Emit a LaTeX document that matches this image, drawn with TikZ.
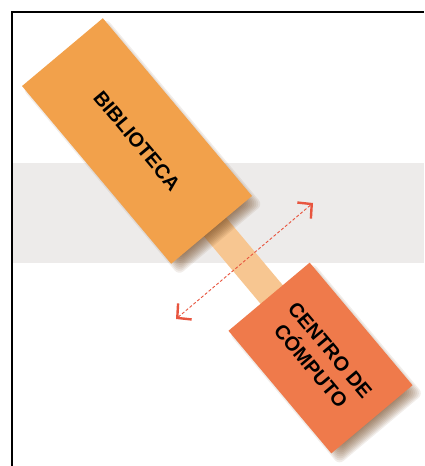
\documentclass[tikz,border=0pt]{standalone}
\usepackage{fontspec}
\setmainfont{Liberation Sans}
\usetikzlibrary{arrows.meta}
\definecolor{bibcol}{RGB}{242,161,75}
\definecolor{cencol}{RGB}{239,122,75}
\definecolor{stripcol}{RGB}{247,198,145}
\definecolor{bandcol}{RGB}{237,235,234}
\definecolor{arrcol}{RGB}{232,85,63}
\definecolor{shadowcol}{RGB}{110,65,25}
\begin{document}
\begin{tikzpicture}[x=1pt,y=1pt,
  boxstyle/.style={draw=none, rotate=-50, inner sep=0pt, align=center,
    font=\fontsize{20}{25}\selectfont\bfseries, text=black},
  shadowlayer/.style={fill=shadowcol, opacity=0.09, rounded corners=6pt},
  linkbar/.style={fill=stripcol},
  band/.style={fill=bandcol},
  framestyle/.style={draw=black, line width=2pt},
  tipstyle/.tip={Straight Barb[length=10pt,width=21pt,line width=2.4pt]},
  flowarrow/.style={draw=arrcol, line width=0.9pt, dash pattern=on 3pt off 2pt, tipstyle-tipstyle}]
\useasboundingbox (0,0) rectangle (424,466);
\fill[white] (0,0) rectangle (424,466);
\fill[band] (12,203) rectangle (424,303);
\coordinate (bc) at (137,325);
\coordinate (cc) at (320.5,108);
% link bar and shadow of the library box
\begin{scope}[shift={(bc)}, rotate=-50]
  \fill[linkbar] (110,-10) rectangle (210,19);
  \foreach \i in {0,...,9}{
    \pgfmathsetmacro{\e}{-7+1.4*\i}
    \fill[shadowlayer] (8-116-\e,-52.75-\e+4) rectangle (8+116+\e,52.75+\e-3);
  }
\end{scope}
\node[boxstyle, fill=bibcol, minimum width=232pt, minimum height=105.5pt] (bib) at (bc) {BIBLIOTECA};
% shadow of the computer centre box
\begin{scope}[shift={(cc)}, rotate=-50]
  \foreach \i in {0,...,9}{
    \pgfmathsetmacro{\e}{-7+1.4*\i}
    \fill[shadowlayer] (8-80-\e,-53-\e+4) rectangle (8+80+\e,53+\e-3);
  }
\end{scope}
\node[boxstyle, fill=cencol, minimum width=160pt, minimum height=106pt] (cen) at (cc) {CENTRO DE\\CÓMPUTO};
% dashed double arrow
\coordinate (al) at (176,147);
\coordinate (ar) at (313,263);
\draw[flowarrow] (al) -- (ar);
% frame
\draw[framestyle] (11.8,0) -- (11.8,454.2) -- (424,454.2);
\end{tikzpicture}
\end{document}
